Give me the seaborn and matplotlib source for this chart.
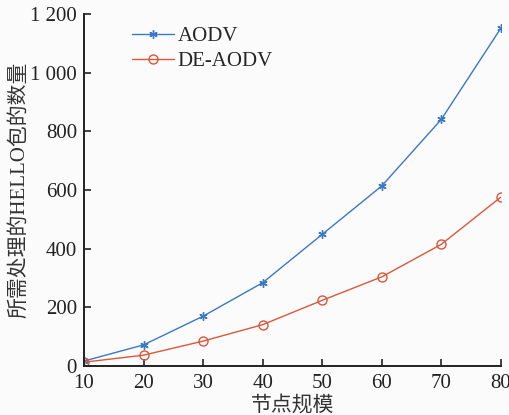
import matplotlib
matplotlib.use("Agg")
import matplotlib.pyplot as plt
import seaborn as sns
import pandas as pd

nodes = [10, 20, 30, 40, 50, 60, 70, 80]
aodv = [17, 72, 170, 284, 449, 614, 841, 1152]
de_aodv = [13, 37, 85, 141, 224, 304, 415, 576]
yticks = [0, 200, 400, 600, 800, 1000, 1200]
ytick_labels = ["0", "200", "400", "600", "800", "1 000", "1 200"]
xticks = [10, 20, 30, 40, 50, 60, 70, 80]

sns.set_style("ticks")
plt.rcParams['font.family'] = ['Liberation Serif', 'Noto Sans CJK SC', 'DejaVu Sans']

df = pd.DataFrame({"x": nodes * 2, "y": aodv + de_aodv,
                   "s": ["AODV"] * len(nodes) + ["DE-AODV"] * len(nodes)})

fig = plt.figure(figsize=(5.09, 4.15), dpi=100, facecolor="#fbfbfb")
ax = fig.add_axes([0.165, 0.118, 0.819, 0.848])
ax.set_facecolor("#fbfbfb")

blue = "#3b78c2"
red = "#d9573a"
sns.lineplot(data=df[df.s == "AODV"], x="x", y="y", ax=ax, color=blue, lw=1.0,
             marker=(6, 2, 0), markersize=6, markeredgewidth=1.0, markeredgecolor=blue,
             label="AODV")
sns.lineplot(data=df[df.s == "DE-AODV"], x="x", y="y", ax=ax, color=red, lw=1.0,
             marker="o", markersize=6.5, markerfacecolor="none", markeredgewidth=1.0,
             markeredgecolor=red, label="DE-AODV")

ax.set_xlim(10, 80)
ax.set_ylim(0, 1200)
ax.set_xticks(xticks)
ax.set_yticks(yticks)
ax.set_yticklabels(ytick_labels)
ax.tick_params(direction="in", labelsize=15, length=5, width=1.2, colors="#222222")
ax.tick_params(axis="x", pad=6)
ax.tick_params(axis="y", pad=5)
for s in ["left", "bottom"]:
    ax.spines[s].set_linewidth(1.4)
    ax.spines[s].set_color("#222222")
sns.despine(ax=ax)
ax.set_xlabel("节点规模", fontsize=15, labelpad=2, color="#333333")
ax.set_ylabel("所需处理的HELLO包的数量", fontsize=15, labelpad=1, color="#333333")
leg = ax.legend(loc="upper left", bbox_to_anchor=(0.085, 1.0), frameon=False,
                fontsize=15, handlelength=2.0, handletextpad=0.2, borderaxespad=0.2,
                labelspacing=0.25)
fig.savefig("out.png", dpi=100, facecolor=fig.get_facecolor())
